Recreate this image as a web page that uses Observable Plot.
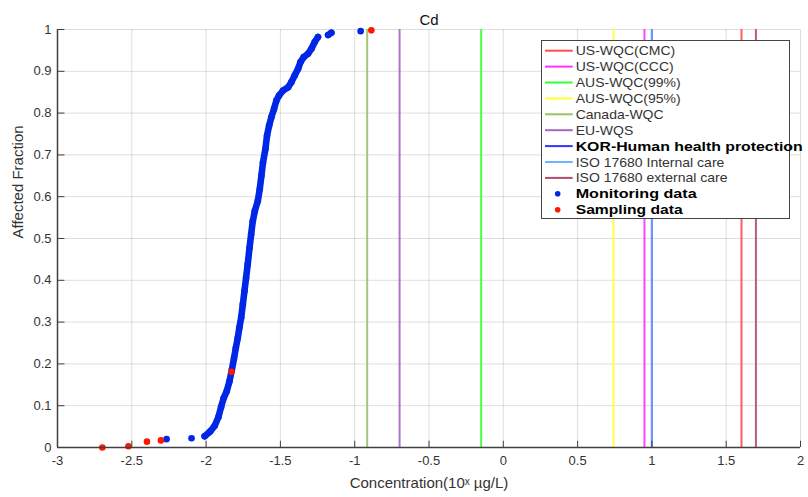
<!DOCTYPE html>
<html><head><meta charset="utf-8">
<script src="https://cdn.jsdelivr.net/npm/d3@7"></script>
<script src="https://cdn.jsdelivr.net/npm/@observablehq/plot@0.6"></script>
<style>
body{margin:0;background:#fff;}
#wrap{position:relative;width:808px;height:497px;}
#legend{position:absolute;left:541px;top:40px;overflow:visible;}
</style>
</head><body><div id="wrap"></div>
<script>
// ---- data ----
const title = "Cd";
const xTicks = [-3, -2.5, -2, -1.5, -1, -0.5, 0, 0.5, 1, 1.5, 2];
const yTicks = [0, 0.1, 0.2, 0.3, 0.4, 0.5, 0.6, 0.7, 0.8, 0.9, 1];

const monitoringX = [-2.266, -2.098, -2.010, -1.973, -1.942, -1.917, -1.899, -1.883, -1.861, -1.843,
  -1.827, -1.812, -1.800, -1.787, -1.776, -1.764, -1.753, -1.742, -1.731, -1.720, -1.708, -1.697,
  -1.686, -1.672, -1.652, -1.639, -1.628, -1.617, -1.601, -1.590, -1.576, -1.561, -1.543, -1.527,
  -1.509, -1.482, -1.448, -1.426, -1.404, -1.381, -1.365, -1.343, -1.314, -1.291, -1.269, -1.247,
  -1.179, -1.157, -0.960];
const monitoringY = [0.020, 0.022, 0.027, 0.038, 0.052, 0.073, 0.097, 0.117, 0.135, 0.158,
  0.185, 0.214, 0.238, 0.262, 0.287, 0.311, 0.342, 0.374, 0.406, 0.438, 0.477, 0.510,
  0.541, 0.566, 0.590, 0.618, 0.650, 0.682, 0.714, 0.746, 0.770, 0.790, 0.810, 0.830,
  0.842, 0.854, 0.862, 0.874, 0.890, 0.906, 0.922, 0.934, 0.942, 0.954, 0.970, 0.982,
  0.987, 0.992, 0.996];

const samplingX = [-2.698, -2.523, -2.398, -2.304, -1.829, -0.888];
const samplingY = [0.000, 0.003, 0.014, 0.017, 0.181, 0.998];

const guideNames = ["US-WQC(CMC)", "US-WQC(CCC)", "AUS-WQC(99%)", "AUS-WQC(95%)", "Canada-WQC",
  "EU-WQS", "KOR-Human health protection", "ISO 17680 Internal care", "ISO 17680 external care"];
const guideValues = [1.603, 0.95, -0.149, 0.742, -0.916, -0.698, 1.0, 1.0, 1.70];
const guideColors = ["#ff4d4d", "#ff33ff", "#33ff33", "#ffff33", "#99c266",
  "#a366c2", "#3333ff", "#70b4ff", "#b34d66"];
const pointNames = ["Monitoring data", "Sampling data"];
const blue = "#0026e6", red = "#ff1800";

// ---- build tables ----
const monitoring = monitoringX.map((x, i) => ({x, y: monitoringY[i]}));
let seg = 0;
monitoring.forEach((d, i) => {
  if (i > 0 && d.x - monitoring[i - 1].x > 0.05) seg++;
  d.seg = seg;
});
const segCounts = d3.rollup(monitoring, v => v.length, d => d.seg);
const monitoringLine = monitoring.filter(d => segCounts.get(d.seg) > 1);
const sampling = samplingX.map((x, i) => ({x, y: samplingY[i]}));
const guides = guideNames.map((name, i) => ({name, value: guideValues[i], color: guideColors[i]}));

const fmt = d => String(d);
const axisColor = "#404040";

const chart = Plot.plot({
  width: 808,
  height: 497,
  marginLeft: 57,
  marginRight: 8,
  marginTop: 29,
  marginBottom: 50,
  style: {fontFamily: "'Liberation Sans', Arial, sans-serif", fontSize: "13px", color: "#333", background: "#fff"},
  x: {domain: [-3, 2]},
  y: {domain: [0, 1]},
  marks: [
    Plot.gridX(xTicks, {stroke: "#000", strokeOpacity: 0.13}),
    Plot.gridY(yTicks, {stroke: "#000", strokeOpacity: 0.13}),
    ...guides.map(g => Plot.ruleX([g.value], {y1: 0, y2: 1, stroke: g.color, strokeWidth: 2,
      strokeOpacity: g.name.startsWith("ISO 17680 I") ? 0.75 : 0.9})),
    Plot.line(monitoringLine, {x: "x", y: "y", z: "seg", stroke: blue, strokeWidth: 6.6,
      strokeLinecap: "round", strokeLinejoin: "round"}),
    Plot.dot(monitoring, {x: "x", y: "y", r: 3.3, fill: blue}),
    Plot.dot(sampling, {x: "x", y: "y", r: 3.3, fill: red}),
    Plot.ruleX(xTicks, {y1: 0, y2: 0.015, stroke: axisColor}),
    Plot.ruleY(yTicks, {x1: -3, x2: -2.95, stroke: axisColor}),
    Plot.ruleX([-3], {stroke: axisColor, strokeWidth: 1.5}),
    Plot.ruleY([0], {stroke: axisColor, strokeWidth: 1.5}),
    Plot.axisX(xTicks, {tickSize: 0, tickPadding: 8, tickFormat: fmt, label: null, fill: "#333"}),
    Plot.axisY(yTicks, {tickSize: 0, tickPadding: 6, tickFormat: fmt, label: null, fill: "#333"}),
    Plot.text([title], {frameAnchor: "top", lineAnchor: "bottom", dy: -5, fontSize: 15, fill: "#111"}),
    Plot.text(["Concentration(10ˣ µg/L)"], {frameAnchor: "bottom", lineAnchor: "middle", dy: 36, fontSize: 15, fill: "#333"}),
    Plot.text(["Affected Fraction"], {frameAnchor: "left", rotate: -90, dx: -39, fontSize: 15, fill: "#333"})
  ]
});
const wrap = document.getElementById("wrap");
wrap.appendChild(chart);

// ---- legend ----
const ns = "http://www.w3.org/2000/svg";
const lg = document.createElementNS(ns, "svg");
lg.setAttribute("id", "legend");
lg.setAttribute("width", 268);
lg.setAttribute("height", 180);
const mk = (tag, attrs, parent = lg) => {
  const e = document.createElementNS(ns, tag);
  for (const k in attrs) e.setAttribute(k, attrs[k]);
  parent.appendChild(e);
  return e;
};
mk("rect", {x: 0.5, y: 0.5, width: 248, height: 178, fill: "#fff", stroke: "#444", "stroke-width": 1});
wrap.appendChild(lg);
const rowY = i => 10.7 + i * 15.9;
const boldWidths = {"KOR-Human health protection": 227, "Monitoring data": 121, "Sampling data": 107};
const addText = (label, i) => {
  const bold = label in boldWidths;
  const t = mk("text", {x: 34.7, y: rowY(i), "dominant-baseline": "central",
    "font-family": "'Liberation Sans', Arial, sans-serif",
    "font-size": 14, "font-weight": bold ? "bold" : "normal", fill: bold ? "#000" : "#333"});
  t.textContent = label;
  const w = bold ? boldWidths[label] : t.getComputedTextLength();
  t.setAttribute("font-size", 13);
  t.setAttribute("textLength", w);
  t.setAttribute("lengthAdjust", "spacingAndGlyphs");
};
guides.forEach((g, i) => {
  mk("line", {x1: 4, x2: 31.7, y1: rowY(i), y2: rowY(i), stroke: g.color, "stroke-width": 2});
  addText(g.name, i);
});
[blue, red].forEach((c, j) => {
  const i = guides.length + j;
  mk("circle", {cx: 16.7, cy: rowY(i), r: 2.8, fill: c});
  addText(pointNames[j], i);
});
</script>
</body></html>
